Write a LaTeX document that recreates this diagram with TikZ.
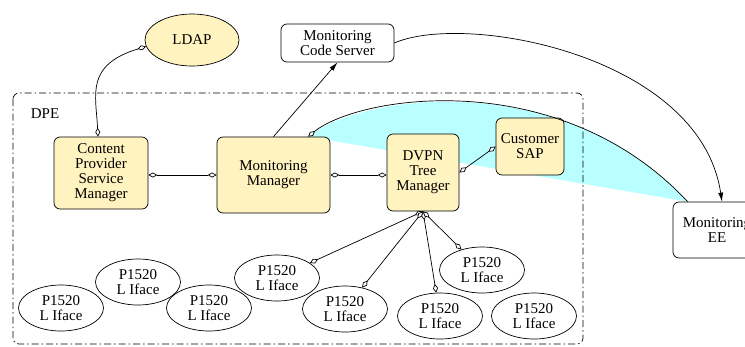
\documentclass[tikz,border=0pt]{standalone}
\usepackage{fontspec}
\setmainfont{Liberation Serif}
\usepackage{tikz}
\usetikzlibrary{positioning}
\usetikzlibrary{arrows.meta}
\usetikzlibrary{shapes.geometric}
\usetikzlibrary{backgrounds}
\usepackage{xcolor}
\definecolor{boxyellow}{RGB}{255,243,191}
\definecolor{wedgecyan}{RGB}{185,255,255}

\begin{document}
\begin{tikzpicture}[x=1pt, y=1pt,
  every node/.style={font=\fontsize{15}{15}\selectfont, align=center, inner sep=0pt},
  yellowbox/.style={draw, fill=boxyellow, rounded corners=6pt, line width=0.7pt},
  whitebox/.style={draw, fill=white, rounded corners=6pt, line width=0.7pt},
  iface/.style={draw, ellipse, minimum width=85pt, minimum height=46pt, line width=0.7pt},
  link/.style={line width=0.7pt, {Diamond[fill=white,length=9pt,width=5pt]}-{Diamond[fill=white,length=9pt,width=5pt]}},
  feed/.style={line width=0.7pt, -{Latex[length=9pt,width=5pt]}}]
  \useasboundingbox (0,0) rectangle (745,-346);

  % DPE boundary
  \draw[line width=0.7pt, rounded corners=6pt, dash pattern=on 7pt off 3pt on 1.5pt off 3pt] (13,-93) rectangle (583,-344);
  \node (dpe) at (45,-114) {DPE};

  % Servers and managers
  \node[yellowbox, ellipse, minimum width=94pt, minimum height=52pt] (ldap) at (192,-40) {LDAP};
  \node[whitebox, minimum width=113pt, minimum height=38pt] (mcs) at (337.5,-43) {Monitoring\\Code Server};
  \node[yellowbox, minimum width=94pt, minimum height=72pt] (cpsm) at (101,-173) {Content\\Provider\\Service\\Manager};
  \node[yellowbox, minimum width=113pt, minimum height=76pt] (mm) at (273.5,-175) {Monitoring\\Manager};
  \node[yellowbox, minimum width=72pt, minimum height=77pt] (dvpn) at (423,-172.5) {DVPN\\Tree\\Manager};
  \node[yellowbox, minimum width=68pt, minimum height=57pt] (sap) at (530,-146.5) {Customer\\SAP};
  \node[whitebox, minimum width=88pt, minimum height=56pt] (mee) at (717,-230) {Monitoring\\EE};

  % Interfaces
  \foreach \name/\x/\y in {p1/61/308, p2/138/282, p3/209/308, p4/277/278,
                           p5/345/309, p6/440/316, p7/482/270, p8/534/316} {
    \node[iface] (\name) at (\x,-\y) {P1520\\L Iface};
  }

  % Monitoring wedge
  \begin{scope}[on background layer]
    \fill[wedgecyan] (mm.48) .. controls (360,-95) and (560,-65) .. (mee.136) -- cycle;
  \end{scope}
  \draw[line width=0.7pt, {Diamond[fill=white,length=9pt,width=5pt]}-] (mm.48) .. controls (360,-95) and (560,-65) .. (mee.136);

  % Connections
  \draw[link] (ldap.188) .. controls (85,-65) and (96,-95) .. ([xshift=-3pt]cpsm.north);
  \draw[feed] (mm.north) -- (mcs.south);
  \draw[feed] (mcs.east) .. controls (465,-12) and (700,-55) .. (mee.80);
  \draw[link] (cpsm.east |- mm.west) -- (mm.west);
  \draw[link] (mm.east) -- (mm.east -| dvpn.west);
  \draw[link] (dvpn.east) -- (sap.west);
  \foreach \name in {p4, p5, p6, p7} {
    \draw[link] (dvpn.south) -- (\name);
  }
\end{tikzpicture}
\end{document}
